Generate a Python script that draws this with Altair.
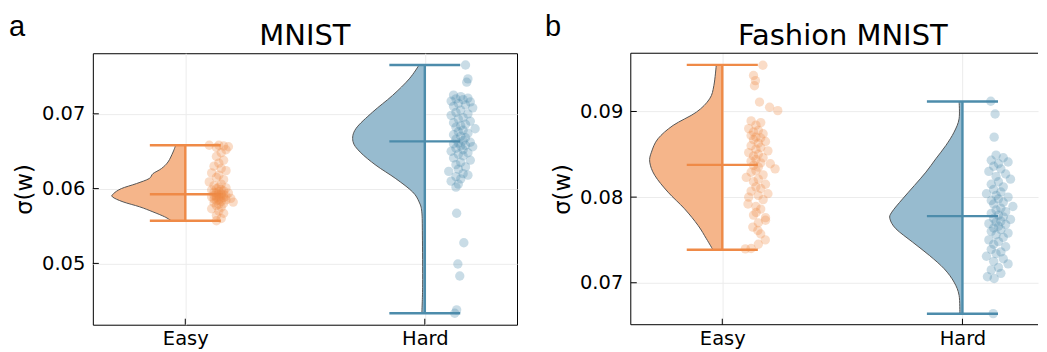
import altair as alt
import pandas as pd

CATS = ["Easy", "Hard"]
LINE_COLORS = ["#ef8a47", "#4d8cab"]
FILL_COLORS = ["#f5b58a", "#97bbcf"]
FONT = "DejaVu Sans"
GRID = "#ececec"

# ---------------- panel a : MNIST ----------------
A_EASY_VALS = [0.0658, 0.0658, 0.0657, 0.0656, 0.0655, 0.0652, 0.0648, 0.0643, 0.0638, 0.0634,
               0.0630, 0.0627, 0.0624, 0.0621, 0.0618, 0.0615, 0.0612, 0.0609, 0.0606, 0.0604,
               0.0602, 0.0601, 0.0600, 0.0599, 0.0598, 0.0597, 0.0596, 0.0595, 0.0594, 0.0594,
               0.0593, 0.0592, 0.0592, 0.0591, 0.0591, 0.0590, 0.0590, 0.0589, 0.0589, 0.0588,
               0.0588, 0.0587, 0.0587, 0.0586, 0.0585, 0.0585, 0.0584, 0.0583, 0.0582, 0.0581,
               0.0580, 0.0579, 0.0577, 0.0575, 0.0573, 0.0570, 0.0567, 0.0564, 0.0560, 0.0557]
A_EASY_OFF = [0.10, 0.14, 0.16, 0.18, 0.13, 0.17, 0.15, 0.13, 0.16, 0.14,
              0.12, 0.15, 0.17, 0.11, 0.14, 0.13, 0.16, 0.10, 0.15, 0.12,
              0.14, 0.17, 0.13, 0.15, 0.11, 0.16, 0.14, 0.12, 0.18, 0.13,
              0.15, 0.14, 0.16, 0.12, 0.15, 0.13, 0.17, 0.11, 0.14, 0.16,
              0.13, 0.19, 0.15, 0.12, 0.14, 0.17, 0.13, 0.15, 0.20, 0.12,
              0.16, 0.14, 0.13, 0.15, 0.11, 0.14, 0.16, 0.13, 0.15, 0.13]
A_HARD_VALS = [0.07653, 0.07467, 0.07423, 0.0725, 0.0723, 0.0721, 0.0720, 0.0719, 0.0717, 0.0716,
               0.0714, 0.0712, 0.0710, 0.0708, 0.0705, 0.0702, 0.0700, 0.0698, 0.0695, 0.0693,
               0.0690, 0.0688, 0.0686, 0.0684, 0.0682, 0.0680, 0.0678, 0.0676, 0.0674, 0.0672,
               0.0670, 0.0668, 0.0666, 0.0664, 0.0662, 0.0661, 0.0660, 0.0658, 0.0657, 0.0656,
               0.0654, 0.0652, 0.0650, 0.0648, 0.0646, 0.0644, 0.0641, 0.0638, 0.0635, 0.0632,
               0.0629, 0.0626, 0.0623, 0.0620, 0.0618, 0.0616, 0.0613, 0.0610, 0.0606, 0.0602,
               0.0567, 0.05276, 0.04992, 0.04832, 0.04379, 0.04333]
A_HARD_OFF = [0.17, 0.18, 0.175, 0.12, 0.15, 0.18, 0.13, 0.16, 0.11, 0.19,
              0.14, 0.17, 0.12, 0.20, 0.15, 0.13, 0.18, 0.11, 0.16, 0.14,
              0.19, 0.12, 0.17, 0.15, 0.13, 0.21, 0.16, 0.14, 0.18, 0.12,
              0.15, 0.17, 0.13, 0.16, 0.19, 0.14, 0.12, 0.17, 0.15, 0.20,
              0.13, 0.16, 0.11, 0.18, 0.14, 0.16, 0.12, 0.19, 0.15, 0.13,
              0.17, 0.14, 0.10, 0.16, 0.18, 0.13, 0.15, 0.11, 0.14, 0.13,
              0.133, 0.163, 0.138, 0.146, 0.133, 0.125]
# violin outlines (value, half-width in category units)
A_EASY_VIOL_V = [0.05569, 0.05623, 0.05689, 0.05756, 0.05823, 0.05889, 0.05934, 0.06000,
                 0.06067, 0.06134, 0.06200, 0.06267, 0.06356, 0.06489, 0.06583]
A_EASY_VIOL_W = [0.058, 0.086, 0.135, 0.190, 0.260, 0.304, 0.299, 0.267,
                 0.204, 0.151, 0.135, 0.100, 0.072, 0.051, 0.040]
A_HARD_VIOL_V = [0.04333, 0.04712, 0.05379, 0.05689, 0.05823, 0.05956, 0.06133, 0.06312,
                 0.06489, 0.06632, 0.06800, 0.07023, 0.07245, 0.07467, 0.07653]
A_HARD_VIOL_W = [0.0125, 0.009, 0.010, 0.0125, 0.024, 0.051, 0.121, 0.204,
                 0.270, 0.300, 0.288, 0.218, 0.135, 0.065, 0.024]
A_MIN = [0.0557, 0.04333]
A_MED = [0.05925, 0.06632]
A_MAX = [0.0658, 0.07653]
A_YTICKS = [0.05, 0.06, 0.07]

# ---------------- panel b : Fashion MNIST ----------------
B_EASY_VALS = [0.0954, 0.0942, 0.0936, 0.0930, 0.0911, 0.0905, 0.0901, 0.0889, 0.0887, 0.0884,
               0.0880, 0.0878, 0.0876, 0.0874, 0.0872, 0.0870, 0.0869, 0.0867, 0.0865, 0.0863,
               0.0860, 0.0858, 0.0856, 0.0854, 0.0852, 0.0850, 0.0848, 0.0846, 0.0844, 0.0842,
               0.0840, 0.0839, 0.0837, 0.0835, 0.0833, 0.0831, 0.0829, 0.0826, 0.0823, 0.0821,
               0.0818, 0.0815, 0.0812, 0.0810, 0.0807, 0.0804, 0.0802, 0.0800, 0.0797, 0.0792,
               0.0789, 0.0786, 0.0782, 0.0779, 0.0776, 0.0773, 0.0770, 0.0765, 0.0761, 0.0757,
               0.0750, 0.0745, 0.0740, 0.07395]
B_EASY_OFF = [0.169, 0.130, 0.138, 0.134, 0.155, 0.197, 0.231, 0.12, 0.16, 0.14,
              0.11, 0.15, 0.13, 0.17, 0.12, 0.14, 0.16, 0.13, 0.18, 0.15,
              0.12, 0.16, 0.14, 0.19, 0.11, 0.15, 0.13, 0.17, 0.14, 0.12,
              0.16, 0.20, 0.13, 0.15, 0.22, 0.14, 0.12, 0.17, 0.10, 0.15,
              0.13, 0.18, 0.14, 0.16, 0.12, 0.19, 0.15, 0.11, 0.17, 0.107,
              0.14, 0.16, 0.141, 0.13, 0.18, 0.180, 0.15, 0.127, 0.148, 0.16,
              0.179, 0.15, 0.12, 0.096]
B_HARD_VALS = [0.0912, 0.0897, 0.0870, 0.0849, 0.0846, 0.0843, 0.0841, 0.0839, 0.0836, 0.0833,
               0.0830, 0.0827, 0.0824, 0.0821, 0.0818, 0.0815, 0.0812, 0.0809, 0.0806, 0.0804,
               0.0802, 0.0800, 0.0798, 0.0796, 0.0794, 0.0792, 0.0789, 0.0787, 0.0785, 0.0783,
               0.0781, 0.0779, 0.0777, 0.0775, 0.0774, 0.0772, 0.0771, 0.0769, 0.0768, 0.0766,
               0.0764, 0.0762, 0.0760, 0.0758, 0.0756, 0.0753, 0.0750, 0.0748, 0.0745, 0.0742,
               0.0739, 0.0736, 0.0734, 0.0731, 0.0728, 0.0725, 0.0722, 0.0718, 0.0715, 0.0711,
               0.0707, 0.0705, 0.0664]
B_HARD_OFF = [0.118, 0.136, 0.132, 0.14, 0.17, 0.12, 0.19, 0.15, 0.13, 0.16,
              0.11, 0.18, 0.14, 0.20, 0.15, 0.12, 0.17, 0.13, 0.16, 0.10,
              0.14, 0.19, 0.15, 0.12, 0.17, 0.13, 0.21, 0.16, 0.14, 0.18,
              0.12, 0.15, 0.17, 0.13, 0.20, 0.16, 0.14, 0.11, 0.18, 0.15,
              0.13, 0.16, 0.12, 0.19, 0.14, 0.17, 0.11, 0.15, 0.13, 0.18,
              0.12, 0.16, 0.14, 0.10, 0.17, 0.13, 0.19, 0.15, 0.12, 0.16,
              0.104, 0.132, 0.128]
B_EASY_VIOL_V = [0.07385, 0.07513, 0.07670, 0.07863, 0.08058, 0.08253, 0.08408, 0.08525,
                 0.08681, 0.08837, 0.08992, 0.09147, 0.09303, 0.09544]
B_EASY_VIOL_W = [0.039, 0.066, 0.101, 0.157, 0.226, 0.281, 0.302, 0.295,
                 0.268, 0.205, 0.108, 0.053, 0.035, 0.025]
B_HARD_VIOL_V = [0.06638, 0.06853, 0.07008, 0.07163, 0.07320, 0.07475, 0.07630, 0.07747,
                 0.07825, 0.07980, 0.08136, 0.08292, 0.08447, 0.08603, 0.08758, 0.08914, 0.09116]
B_HARD_VIOL_W = [0.011, 0.014, 0.035, 0.076, 0.138, 0.208, 0.277, 0.302,
                 0.294, 0.249, 0.200, 0.152, 0.111, 0.069, 0.035, 0.014, 0.014]
B_MIN = [0.07385, 0.06638]
B_MED = [0.08377, 0.07778]
B_MAX = [0.09544, 0.09116]
B_YTICKS = [0.07, 0.08, 0.09]

CAP = 0.148


def panel(letter, title, vals, offs, viol_v, viol_w, mins, meds, maxs,
          ydomain, yticks, xdomain, width, height, title_x, letter_x, full_frame):
    xs = alt.Scale(domain=xdomain, nice=False, zero=False)
    ys = alt.Scale(domain=ydomain, nice=False, zero=False)
    xaxis = alt.Axis(values=[0, 1],
                     labelExpr=f"datum.value < 0.5 ? '{CATS[0]}' : '{CATS[1]}'",
                     ticks=False, domain=False, grid=True, gridColor=GRID,
                     labelFontSize=19.5, labelFont=FONT, labelColor="black",
                     labelPadding=5, labelFlush=False)
    yaxis = alt.Axis(values=yticks, format=".2f", ticks=False, domain=False,
                     grid=True, gridColor=GRID, labelFontSize=19.5, labelFont=FONT,
                     labelColor="black", labelPadding=8, titleFontSize=22.7,
                     titleFont=FONT, titleFontWeight="normal", titleColor="black",
                     titlePadding=5)

    def X(f):
        return alt.X(f, type="quantitative", scale=xs, axis=xaxis, title=None)

    def Y(f):
        return alt.Y(f, type="quantitative", scale=ys, axis=yaxis, title="σ(w)")

    line_c = alt.Color("cat:N", scale=alt.Scale(domain=CATS, range=LINE_COLORS), legend=None)
    fill_c = alt.Color("cat:N", scale=alt.Scale(domain=CATS, range=FILL_COLORS), legend=None)

    pts = pd.DataFrame([{"cat": CATS[i], "x": i + o, "v": v}
                        for i in range(2) for v, o in zip(vals[i], offs[i])])
    viol = pd.DataFrame([{"cat": CATS[i], "v": v, "xl": i - w, "xc": i}
                         for i in range(2) for v, w in zip(viol_v[i], viol_w[i])])
    stats = pd.DataFrame({"cat": CATS, "xc": [0, 1], "vmin": mins, "vmax": maxs})
    caps = pd.DataFrame([{"cat": CATS[i], "v": s, "xl": i - CAP, "xr": i + CAP}
                         for i in range(2) for s in (mins[i], meds[i], maxs[i])])

    area = alt.Chart(viol).mark_area(orient="horizontal", interpolate="cardinal",
                                     opacity=1).encode(
        y=Y("v"), x=X("xl"), x2=alt.X2("xc"), color=fill_c, detail="cat:N")
    outline = alt.Chart(viol).mark_line(interpolate="cardinal", color="#555555",
                                        strokeWidth=1).encode(
        y=Y("v"), x=X("xl"), detail="cat:N", order=alt.Order("v:Q"))
    vrule = alt.Chart(stats).mark_rule(strokeWidth=2.4).encode(
        x=X("xc"), y=Y("vmin"), y2="vmax:Q", color=line_c)
    caprule = alt.Chart(caps).mark_rule(strokeWidth=2.4).encode(
        y=Y("v"), x=X("xl"), x2="xr:Q", color=line_c)
    points = alt.Chart(pts).mark_circle(size=88, opacity=0.3).encode(
        x=X("x"), y=Y("v"), color=line_c)
    yt = alt.Chart(pd.DataFrame({"v": yticks})).mark_rule(color="black", strokeWidth=1).encode(
        y=Y("v"), x=alt.value(0), x2=alt.value(6))
    xt = alt.Chart(pd.DataFrame({"x": [0, 1]})).mark_rule(color="black", strokeWidth=1).encode(
        x=X("x"), y=alt.value(height), y2=alt.value(height - 6))
    ttl = alt.Chart(pd.DataFrame({"t": [title]})).mark_text(
        font=FONT, fontSize=29, align="center", baseline="alphabetic", color="black").encode(
        x=alt.value(title_x), y=alt.value(-8), text="t:N")
    let = alt.Chart(pd.DataFrame({"t": [letter]})).mark_text(
        font="Liberation Sans", fontSize=29, align="left", baseline="alphabetic",
        color="black").encode(x=alt.value(letter_x), y=alt.value(-17), text="t:N")

    layers = [area, outline, vrule, caprule, points, yt, xt, ttl, let]
    props = dict(width=width, height=height)
    if not full_frame:
        fr = pd.DataFrame({"k": [0]})
        layers += [
            alt.Chart(fr).mark_rule(color="black", strokeWidth=1).encode(
                x=alt.value(0), x2=alt.value(width), y=alt.value(0)),
            alt.Chart(fr).mark_rule(color="black", strokeWidth=1).encode(
                x=alt.value(0), x2=alt.value(width), y=alt.value(height)),
            alt.Chart(fr).mark_rule(color="black", strokeWidth=1).encode(
                x=alt.value(0), y=alt.value(0), y2=alt.value(height)),
        ]
        props["view"] = alt.ViewBackground(strokeOpacity=0)
    return alt.layer(*layers).resolve_scale(color="independent").properties(**props)


pa = panel("a", "MNIST", [A_EASY_VALS, A_HARD_VALS], [A_EASY_OFF, A_HARD_OFF],
           [A_EASY_VIOL_V, A_HARD_VIOL_V], [A_EASY_VIOL_W, A_HARD_VIOL_W],
           A_MIN, A_MED, A_MAX, [0.0418, 0.0781], A_YTICKS, [-0.386, 1.385],
           425, 272, 212.5, -84, True)
pb = panel("b", "Fashion MNIST", [B_EASY_VALS, B_HARD_VALS], [B_EASY_OFF, B_HARD_OFF],
           [B_EASY_VIOL_V, B_HARD_VIOL_V], [B_EASY_VIOL_W, B_HARD_VIOL_W],
           B_MIN, B_MED, B_MAX, [0.0651, 0.0968], B_YTICKS, [-0.381, 1.3146],
           408, 272, 212.5, -86, False)

chart = alt.hconcat(pa, pb, spacing=27).properties(
    padding={"left": 0, "right": 0, "top": 4, "bottom": 0}).configure_view(
    stroke="black", strokeWidth=1)

chart.save("out.html", embed_options={"renderer": "svg", "actions": False})
